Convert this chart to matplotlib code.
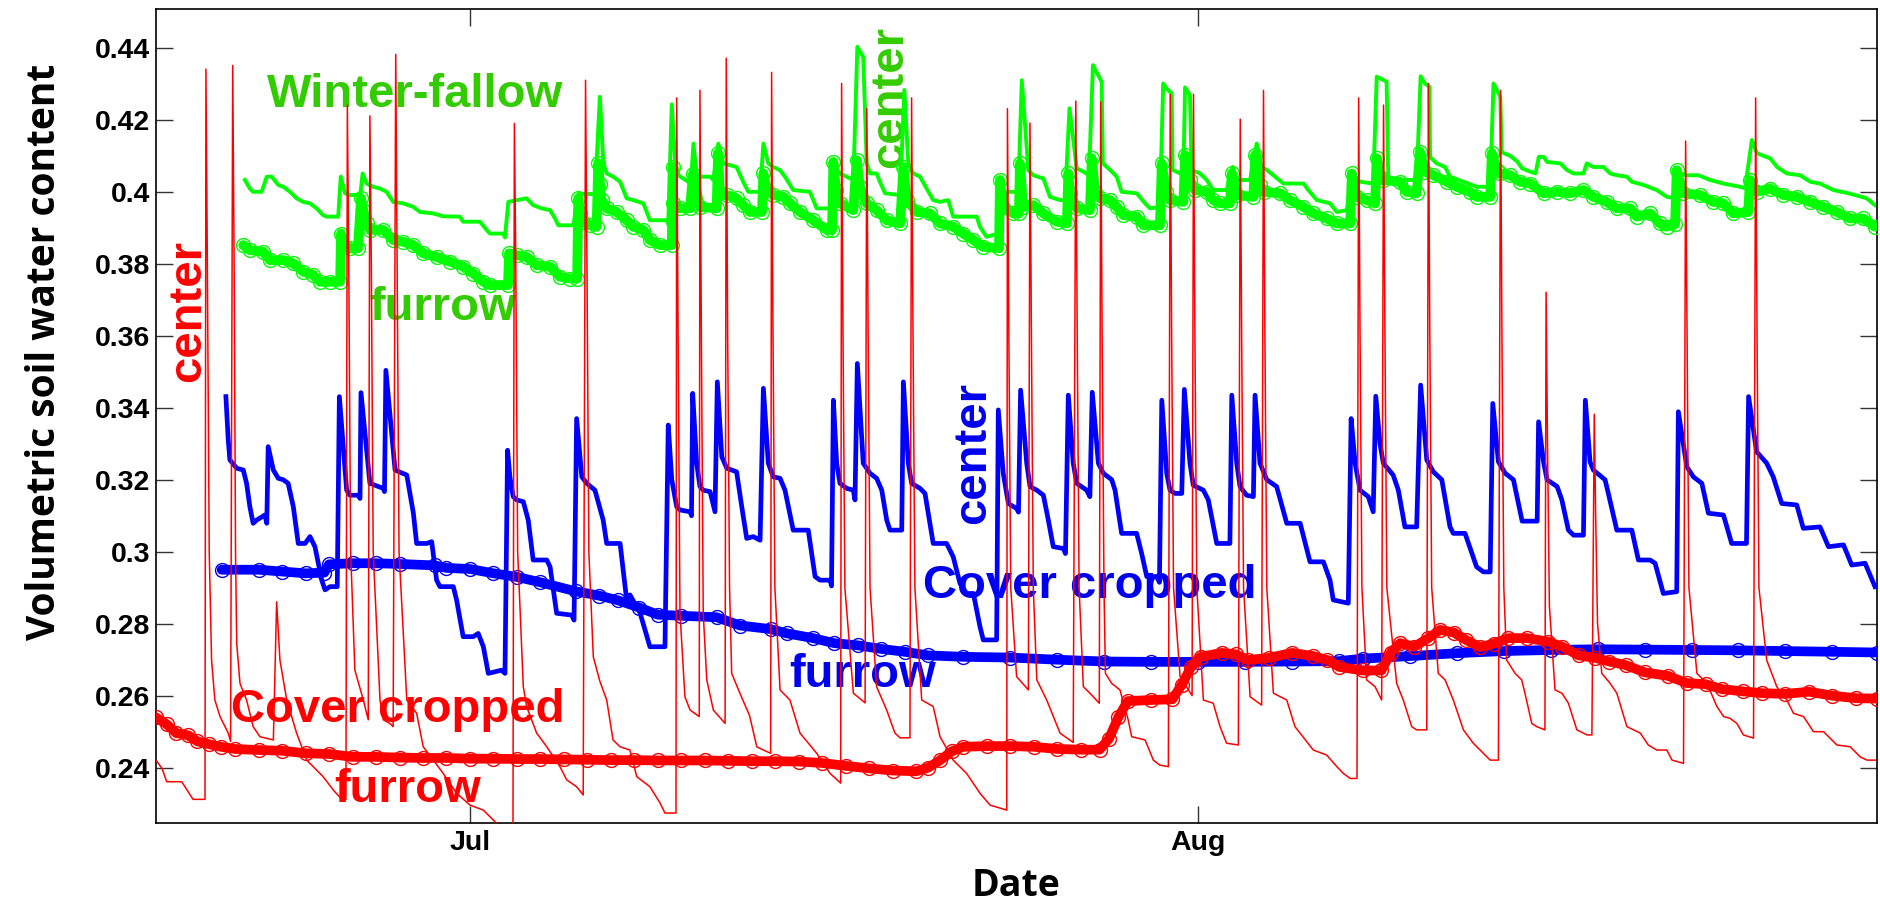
import numpy as np
import matplotlib.pyplot as plt

# x = days counted from 1 July (Jul 1 = 0, Aug 1 = 31)
# y = volumetric soil water content

# cover cropped, center (thin red line)
red_center = [
    (-13.37, 0.2421), (-13.11, 0.2398), (-12.91, 0.2361), (-12.27, 0.2361), (-11.79, 0.2312), (-11.28, 0.2312),
    (-11.24, 0.4341), (-11.18, 0.380), (-11.10, 0.300), (-11.00, 0.2699), (-10.86, 0.2588), (-10.64, 0.2542),
    (-10.29, 0.2496), (-10.19, 0.2473),
    (-10.10, 0.4351), (-10.04, 0.380), (-9.98, 0.300), (-9.93, 0.2746), (-9.79, 0.2634), (-9.51, 0.2588),
    (-9.23, 0.2514), (-8.94, 0.2486), (-8.37, 0.2477),
    (-8.23, 0.2861), (-8.09, 0.2699), (-7.80, 0.2588), (-7.38, 0.2496), (-6.95, 0.2421), (-6.25, 0.2375),
    (-5.82, 0.2338), (-5.46, 0.2312), (-5.28, 0.2312),
    (-5.22, 0.4241), (-5.16, 0.380), (-5.08, 0.300), (-4.90, 0.2671), (-4.54, 0.2588), (-4.33, 0.2533),
    (-4.26, 0.4211), (-4.20, 0.380), (-4.12, 0.300), (-3.83, 0.2588), (-3.69, 0.2533), (-3.41, 0.2523), (-3.27, 0.2514),
    (-3.16, 0.4382), (-3.10, 0.380), (-3.02, 0.300), (-2.69, 0.2588), (-2.27, 0.2551), (-1.99, 0.2458),
    (-1.56, 0.2421), (-1.14, 0.2384), (-0.57, 0.2329), (0.00, 0.2296), (0.57, 0.2282), (1.14, 0.2245), (1.83, 0.2225),
    (1.89, 0.4190), (1.95, 0.380), (2.03, 0.300), (2.27, 0.2625), (2.41, 0.2570), (2.84, 0.2496), (3.27, 0.2458),
    (3.83, 0.2403), (4.12, 0.2366), (4.54, 0.2347), (4.82, 0.2324),
    (4.92, 0.4310), (4.98, 0.380), (5.06, 0.300), (5.25, 0.2708), (5.53, 0.2640), (5.82, 0.2588), (6.09, 0.2477),
    (6.39, 0.2458), (6.81, 0.2449), (7.10, 0.2375), (7.66, 0.2347), (8.09, 0.2302), (8.30, 0.2274), (8.77, 0.2274),
    (8.80, 0.4261), (8.86, 0.360), (8.94, 0.2830), (9.15, 0.2597), (9.37, 0.2560), (9.76, 0.2542),
    (9.79, 0.4282), (9.85, 0.360), (9.93, 0.2829), (10.08, 0.2644), (10.36, 0.2560), (10.86, 0.2523),
    (10.91, 0.4371), (10.97, 0.360), (11.05, 0.290), (11.14, 0.2662), (11.49, 0.2607), (11.90, 0.2545),
    (12.21, 0.2458), (12.49, 0.2449), (12.80, 0.2440),
    (12.84, 0.4332), (12.90, 0.360), (12.98, 0.290), (13.20, 0.2616), (13.62, 0.2588), (14.05, 0.2496),
    (14.76, 0.2440), (15.33, 0.2384), (15.78, 0.2357),
    (15.82, 0.4301), (15.88, 0.360), (15.96, 0.290), (16.32, 0.2607), (16.82, 0.2580),
    (16.89, 0.4232), (16.95, 0.360), (17.03, 0.290), (17.31, 0.2625), (17.74, 0.2560), (18.09, 0.2496),
    (18.31, 0.2483), (18.73, 0.2483),
    (18.80, 0.4261), (18.86, 0.360), (18.94, 0.290), (19.23, 0.2588), (19.72, 0.2570), (20.01, 0.2486),
    (20.57, 0.2421), (21.14, 0.2384), (21.71, 0.2329), (22.14, 0.2296), (22.85, 0.2282),
    (22.88, 0.4231), (22.94, 0.360), (23.02, 0.290), (23.27, 0.2653), (23.77, 0.2616),
    (23.84, 0.4191), (23.90, 0.360), (23.98, 0.290), (24.13, 0.2644), (24.55, 0.2588), (25.12, 0.2496), (25.68, 0.2470),
    (25.79, 0.4252), (25.85, 0.360), (25.93, 0.290), (26.11, 0.2625), (26.39, 0.2607), (26.79, 0.2579),
    (26.85, 0.4250), (26.91, 0.360), (26.99, 0.290), (27.05, 0.2662), (27.32, 0.2634), (27.67, 0.2616),
    (28.02, 0.2533), (28.17, 0.2486), (28.74, 0.2477), (29.09, 0.2421), (29.37, 0.2407), (29.73, 0.2403),
    (29.81, 0.4270), (29.87, 0.360), (29.95, 0.290), (30.23, 0.2653), (30.74, 0.2600),
    (30.80, 0.4271), (30.86, 0.360), (30.94, 0.290), (31.22, 0.2588), (31.64, 0.2579), (31.93, 0.2514),
    (32.21, 0.2468), (32.71, 0.2463),
    (32.79, 0.4202), (32.85, 0.360), (32.93, 0.290), (33.21, 0.2597), (33.70, 0.2574),
    (33.78, 0.4282), (33.84, 0.360), (33.92, 0.290), (34.20, 0.2607), (34.77, 0.2588), (35.12, 0.2514),
    (35.90, 0.2449), (36.47, 0.2435), (36.90, 0.2403), (37.18, 0.2384), (37.47, 0.2370), (37.76, 0.2370),
    (37.83, 0.4261), (37.89, 0.360), (37.97, 0.290), (38.17, 0.2644), (38.53, 0.2625), (38.81, 0.2588),
    (38.89, 0.4241), (38.95, 0.360), (39.03, 0.290), (39.45, 0.2634), (39.73, 0.2588), (40.09, 0.2514),
    (40.30, 0.2505), (40.73, 0.2505),
    (40.80, 0.4301), (40.86, 0.360), (40.94, 0.290), (41.22, 0.2662), (41.51, 0.2644), (41.86, 0.2588),
    (42.29, 0.2505), (42.71, 0.2468), (43.14, 0.2440), (43.43, 0.2421), (43.78, 0.2421),
    (43.87, 0.4282), (43.93, 0.360), (44.01, 0.290), (44.13, 0.2699), (44.49, 0.2662), (44.77, 0.2644),
    (44.91, 0.2607), (45.20, 0.2523), (45.41, 0.2514), (45.76, 0.2505),
    (45.81, 0.3721), (45.87, 0.330), (45.95, 0.285), (46.19, 0.2616), (46.48, 0.2607), (46.76, 0.2579),
    (47.12, 0.2505), (47.55, 0.2491), (47.76, 0.2491),
    (47.86, 0.3382), (47.92, 0.310), (48.00, 0.280), (48.18, 0.2662), (48.54, 0.2634), (48.82, 0.2607),
    (49.25, 0.2514), (49.82, 0.2496), (50.16, 0.2463), (50.52, 0.2449), (50.95, 0.2449), (51.17, 0.2421), (51.66, 0.2412),
    (51.75, 0.4141), (51.81, 0.360), (51.89, 0.290), (52.23, 0.2662), (52.66, 0.2634), (53.08, 0.2570),
    (53.37, 0.2542), (53.64, 0.2537), (53.93, 0.2523), (54.21, 0.2491), (54.64, 0.2482),
    (54.73, 0.4261), (54.79, 0.360), (54.87, 0.290), (55.20, 0.2699), (55.63, 0.2625), (56.06, 0.2588),
    (56.34, 0.2551), (56.77, 0.2542), (57.19, 0.2500), (57.62, 0.2500), (58.19, 0.2463), (58.76, 0.2458),
    (59.18, 0.2430), (59.47, 0.2421), (59.83, 0.2421),
]

# cover cropped, furrow (red circles)
red_furrow = [
    (-13.37, 0.2540), (-12.9, 0.2520), (-12.5, 0.2496), (-12.0, 0.2490), (-11.6, 0.2473), (-11.1, 0.2465),
    (-10.6, 0.2458), (-10.0, 0.2452), (-9.0, 0.2449), (-8.0, 0.2447), (-7.0, 0.2440), (-6.0, 0.2438),
    (-5.0, 0.2430), (-4.0, 0.2430), (-3.0, 0.2428), (-2.0, 0.2427), (-1.0, 0.2427), (0.0, 0.2425),
    (1.0, 0.2425), (2.0, 0.2424), (3.0, 0.2424), (4.0, 0.2423), (5.0, 0.2422), (6.0, 0.2421), (7.0, 0.2421),
    (8.0, 0.2420), (9.0, 0.2420), (10.0, 0.2420), (11.0, 0.2419), (12.0, 0.2418), (13.0, 0.2418),
    (14.0, 0.2417), (15.0, 0.2413), (16.0, 0.2405), (17.0, 0.2398), (18.0, 0.2392), (19.0, 0.2390),
    (19.5, 0.2400), (20.0, 0.2420), (20.5, 0.2445), (21.0, 0.2458), (22.0, 0.2460), (23.0, 0.2460),
    (24.0, 0.2458), (25.0, 0.2452), (26.0, 0.2450), (26.8, 0.2450), (27.2, 0.2480), (27.6, 0.2540),
    (28.0, 0.2585), (29.0, 0.2588), (29.9, 0.2590), (30.3, 0.2630), (30.7, 0.2680), (31.1, 0.2708),
    (32.0, 0.2719), (32.6, 0.2715), (33.1, 0.2699), (34.0, 0.2705), (35.0, 0.2719), (35.9, 0.2710),
    (36.5, 0.2699), (37.0, 0.2680), (38.0, 0.2670), (38.8, 0.2670), (39.2, 0.2720), (39.6, 0.2746),
    (40.2, 0.2736), (40.8, 0.2760), (41.3, 0.2783), (41.9, 0.2775), (42.4, 0.2755), (43.0, 0.2735),
    (43.6, 0.2745), (44.2, 0.2760), (45.0, 0.2760), (45.9, 0.2750), (46.5, 0.2736), (47.2, 0.2712),
    (47.9, 0.2705), (48.5, 0.2695), (49.2, 0.2685), (50.0, 0.2665), (51.0, 0.2655), (51.8, 0.2635),
    (52.6, 0.2632), (53.3, 0.2618), (54.2, 0.2612), (55.0, 0.2607), (56.0, 0.2605), (57.0, 0.2611),
    (58.0, 0.2600), (59.0, 0.2593), (59.88, 0.2592),
]

# cover cropped, center (thick blue line)
blue_center = [
    (-10.39, 0.3431), (-10.29, 0.3310), (-10.22, 0.3255), (-9.93, 0.3232), (-9.65, 0.3227), (-9.51, 0.3190),
    (-9.37, 0.3125), (-9.23, 0.3079), (-9.08, 0.3088), (-8.73, 0.3102), (-8.65, 0.3079),
    (-8.59, 0.3292), (-8.37, 0.3227), (-8.16, 0.3204), (-7.95, 0.3200), (-7.74, 0.3190), (-7.52, 0.3125),
    (-7.31, 0.3023), (-7.02, 0.3023), (-6.81, 0.3042), (-6.60, 0.3014), (-6.31, 0.2921), (-6.17, 0.2894),
    (-5.96, 0.2903), (-5.65, 0.2903),
    (-5.56, 0.3431), (-5.25, 0.3171), (-5.11, 0.3157), (-4.76, 0.3157), (-4.68, 0.3148),
    (-4.64, 0.3442), (-4.26, 0.3190), (-3.69, 0.3176), (-3.64, 0.3167),
    (-3.58, 0.3504), (-3.19, 0.3227), (-2.69, 0.3213), (-2.41, 0.3107), (-2.27, 0.3023), (-1.84, 0.3023),
    (-1.63, 0.3028), (-1.42, 0.2921), (-1.28, 0.2903), (-0.71, 0.2903), (-0.57, 0.2866), (-0.29, 0.2764),
    (0.14, 0.2764), (0.35, 0.2773), (0.57, 0.2736), (0.78, 0.2662), (1.35, 0.2671), (1.49, 0.2662),
    (1.60, 0.3282), (1.70, 0.3208), (1.84, 0.3153), (1.99, 0.3144), (2.27, 0.3139), (2.48, 0.3088),
    (2.69, 0.2977), (3.27, 0.2977), (3.41, 0.2958), (3.69, 0.2829), (4.33, 0.2824), (4.43, 0.2810),
    (4.54, 0.3370), (4.76, 0.3208), (4.97, 0.3190), (5.32, 0.3171), (5.67, 0.3088), (5.82, 0.3023),
    (6.39, 0.3023), (6.67, 0.2866), (6.81, 0.2880), (7.24, 0.2830), (7.66, 0.2736), (8.30, 0.2736),
    (8.44, 0.3352), (8.59, 0.3200), (8.80, 0.3125), (8.94, 0.3116), (9.37, 0.3111), (9.43, 0.3100),
    (9.48, 0.3440), (9.65, 0.3246), (9.79, 0.3181), (9.93, 0.3171), (10.22, 0.3167), (10.43, 0.3111),
    (10.53, 0.3472), (10.72, 0.3264), (10.93, 0.3232), (11.14, 0.3227), (11.35, 0.3222), (11.57, 0.3125),
    (11.78, 0.3037), (12.06, 0.3042), (12.35, 0.3032),
    (12.49, 0.3454), (12.70, 0.3246), (12.91, 0.3208), (13.20, 0.3204), (13.41, 0.3171), (13.76, 0.3060),
    (14.40, 0.3060), (14.69, 0.2931), (14.90, 0.2921), (15.33, 0.2921), (15.39, 0.2905),
    (15.47, 0.3421), (15.61, 0.3246), (15.75, 0.3190), (16.04, 0.3176), (16.32, 0.3171), (16.39, 0.3144),
    (16.49, 0.3523), (16.74, 0.3246), (17.03, 0.3218), (17.31, 0.3204), (17.53, 0.3171), (17.74, 0.3088),
    (17.88, 0.3060), (18.38, 0.3060),
    (18.45, 0.3472), (18.66, 0.3246), (18.80, 0.3190), (19.16, 0.3176), (19.37, 0.3162), (19.72, 0.3023),
    (20.29, 0.3023), (20.57, 0.2986), (20.86, 0.2912), (21.14, 0.2884), (21.43, 0.2884), (21.71, 0.2792),
    (21.85, 0.2755), (22.42, 0.2755),
    (22.49, 0.3394), (22.70, 0.3218), (22.92, 0.3134), (23.27, 0.3120), (23.35, 0.3110),
    (23.44, 0.3449), (23.70, 0.3246), (23.84, 0.3181), (24.13, 0.3171), (24.41, 0.3157), (24.62, 0.3088),
    (24.83, 0.3014), (25.26, 0.3009), (25.35, 0.2995),
    (25.47, 0.3435), (25.68, 0.3246), (25.83, 0.3190), (26.25, 0.3171), (26.39, 0.3153),
    (26.49, 0.3443), (26.75, 0.3246), (26.96, 0.3218), (27.32, 0.3200), (27.46, 0.3171), (27.74, 0.3051),
    (28.38, 0.3051), (28.59, 0.2996), (28.81, 0.2931), (29.23, 0.2931), (29.35, 0.2915),
    (29.45, 0.3421), (29.66, 0.3218), (29.80, 0.3171), (30.01, 0.3162), (30.30, 0.3162),
    (30.41, 0.3451), (30.65, 0.3246), (30.79, 0.3185), (31.22, 0.3171), (31.43, 0.3144), (31.79, 0.3023),
    (32.35, 0.3023),
    (32.43, 0.3435), (32.64, 0.3246), (32.78, 0.3181), (33.06, 0.3157), (33.35, 0.3153),
    (33.42, 0.3435), (33.63, 0.3246), (33.92, 0.3200), (34.34, 0.3181), (34.77, 0.3079), (35.34, 0.3079),
    (35.76, 0.2972), (36.33, 0.2972), (36.61, 0.2921), (36.75, 0.2866), (37.39, 0.2857),
    (37.51, 0.3370), (37.68, 0.3246), (37.89, 0.3171), (38.24, 0.3153), (38.45, 0.3111),
    (38.56, 0.3432), (38.74, 0.3300), (38.88, 0.3246), (39.30, 0.3213), (39.52, 0.3171), (39.80, 0.3069),
    (40.30, 0.3069),
    (40.47, 0.3463), (40.73, 0.3255), (41.01, 0.3222), (41.37, 0.3200), (41.72, 0.3069), (41.86, 0.3051),
    (42.36, 0.3051), (42.85, 0.2958), (43.14, 0.2944), (43.43, 0.2944),
    (43.54, 0.3412), (43.78, 0.3250), (44.07, 0.3218), (44.42, 0.3200), (44.57, 0.3153), (44.79, 0.3085),
    (45.43, 0.3085),
    (45.49, 0.3361), (45.70, 0.3250), (45.85, 0.3200), (46.28, 0.3181), (46.48, 0.3144), (46.76, 0.3060),
    (46.98, 0.3046), (47.40, 0.3046),
    (47.48, 0.3421), (47.68, 0.3250), (47.82, 0.3227), (48.32, 0.3200), (48.46, 0.3162), (48.82, 0.3060),
    (49.46, 0.3060), (49.74, 0.2977), (50.24, 0.2977), (50.45, 0.2968), (50.80, 0.2884), (51.37, 0.2889),
    (51.44, 0.3389), (51.80, 0.3236), (52.08, 0.3208), (52.44, 0.3190), (52.72, 0.3107), (53.36, 0.3102),
    (53.71, 0.3023), (54.34, 0.3023),
    (54.43, 0.3431), (54.77, 0.3278), (55.20, 0.3246), (55.48, 0.3208), (55.84, 0.3134), (56.48, 0.3130),
    (56.76, 0.3065), (57.47, 0.3069), (57.83, 0.3014), (58.47, 0.3019), (58.82, 0.2963), (59.39, 0.2968),
    (59.81, 0.2903),
]

# cover cropped, furrow (blue circles)
blue_furrow = [
    (-10.57, 0.2950), (-9.0, 0.2950), (-8.0, 0.2945), (-7.0, 0.2940), (-6.2, 0.2942), (-6.0, 0.2965),
    (-5.0, 0.2968), (-4.0, 0.2968), (-3.0, 0.2966), (-1.5, 0.2962), (-1.0, 0.2955), (0.0, 0.2952),
    (1.0, 0.2940), (2.0, 0.2930), (3.0, 0.2915), (4.5, 0.2890), (5.5, 0.2878), (6.3, 0.2865),
    (7.2, 0.2845), (8.0, 0.2825), (9.0, 0.2822), (10.5, 0.2818), (11.5, 0.2795), (12.8, 0.2785),
    (13.5, 0.2773), (14.6, 0.2760), (15.5, 0.2746), (16.5, 0.2740), (17.5, 0.2730), (18.5, 0.2722),
    (19.5, 0.2712), (21.0, 0.2708), (23.0, 0.2706), (25.0, 0.2700), (27.0, 0.2695), (29.0, 0.2694),
    (31.0, 0.2694), (33.0, 0.2694), (35.0, 0.2695), (37.0, 0.2696), (38.0, 0.2703), (40.0, 0.2710),
    (42.0, 0.2718), (44.0, 0.2724), (46.0, 0.2727), (48.0, 0.2729), (50.0, 0.2728), (52.0, 0.2727),
    (54.0, 0.2726), (56.0, 0.2724), (58.0, 0.2722), (59.88, 0.2720),
]

# winter-fallow, center (green line)
green_center = [
    (-9.58, 0.4033), (-9.37, 0.4009), (-9.23, 0.4000), (-8.87, 0.4000), (-8.65, 0.4042), (-8.44, 0.4042),
    (-8.16, 0.4019), (-7.95, 0.4014), (-7.66, 0.4000), (-7.38, 0.3982), (-7.10, 0.3972), (-6.81, 0.3968),
    (-6.53, 0.3954), (-6.25, 0.3935), (-6.10, 0.3931), (-5.61, 0.3931),
    (-5.50, 0.4042), (-5.32, 0.3996), (-5.11, 0.3991), (-4.76, 0.3991), (-4.68, 0.3985),
    (-4.57, 0.4051), (-4.40, 0.4023), (-4.12, 0.4014), (-3.83, 0.4009), (-3.55, 0.4000), (-3.27, 0.3972),
    (-2.84, 0.3968), (-2.41, 0.3958), (-2.13, 0.3944), (-1.56, 0.3940), (-1.14, 0.3932), (-0.43, 0.3931),
    (-0.29, 0.3917), (0.43, 0.3917), (0.71, 0.3894), (0.85, 0.3884), (1.42, 0.3884), (1.49, 0.3873),
    (1.63, 0.3972), (1.99, 0.3977), (2.41, 0.3982), (2.69, 0.3963), (3.05, 0.3954), (3.41, 0.3949),
    (3.62, 0.3926), (3.76, 0.3907), (4.40, 0.3907), (4.61, 0.3994), (5.32, 0.3994),
    (5.53, 0.4264), (5.68, 0.4079), (5.82, 0.4051), (6.10, 0.4042), (6.39, 0.4028), (6.67, 0.3982),
    (6.95, 0.3977), (7.38, 0.3968), (7.66, 0.3921), (8.37, 0.3921), (8.44, 0.3910),
    (8.59, 0.4243), (8.73, 0.4088), (8.87, 0.4046), (9.29, 0.4028), (9.41, 0.4020),
    (9.51, 0.4134), (9.65, 0.4051), (9.79, 0.4042), (10.22, 0.4042), (10.36, 0.4033),
    (10.57, 0.4134), (10.78, 0.4079), (11.07, 0.4074), (11.35, 0.4069), (11.63, 0.4028), (11.85, 0.4000),
    (12.35, 0.4000),
    (12.49, 0.4134), (12.70, 0.4079), (12.91, 0.4069), (13.20, 0.4060), (13.41, 0.4042), (13.76, 0.4005),
    (14.47, 0.4000), (14.76, 0.3954), (15.40, 0.3954), (15.45, 0.3940),
    (15.54, 0.4069), (15.75, 0.4051), (16.32, 0.4033),
    (16.49, 0.4403), (16.74, 0.4375), (16.89, 0.4079), (17.03, 0.4051), (17.31, 0.4051), (17.45, 0.4028),
    (17.67, 0.3996), (18.31, 0.3991),
    (18.49, 0.4283), (18.66, 0.4079), (18.87, 0.4051), (19.16, 0.4042), (19.44, 0.4009), (19.72, 0.3977),
    (20.01, 0.3972), (20.36, 0.3977), (20.57, 0.3931), (21.57, 0.3931), (21.71, 0.3903), (21.99, 0.3875),
    (22.49, 0.3884), (22.56, 0.3960), (22.92, 0.4000), (23.34, 0.4000),
    (23.49, 0.4310), (23.77, 0.4060), (23.98, 0.4046), (24.41, 0.4037), (24.69, 0.3986), (25.12, 0.3977),
    (25.33, 0.3977),
    (25.52, 0.4232), (25.83, 0.4065), (26.11, 0.4056), (26.35, 0.4046),
    (26.52, 0.4352), (26.70, 0.4329), (26.89, 0.4306), (26.94, 0.4079), (27.25, 0.4061), (27.53, 0.4042),
    (27.74, 0.4000), (28.38, 0.3996), (28.74, 0.3968), (28.95, 0.3954), (29.37, 0.3958),
    (29.51, 0.4301), (29.66, 0.4287), (29.87, 0.4273), (29.91, 0.4061), (30.23, 0.4051), (30.37, 0.4051),
    (30.44, 0.4290), (30.65, 0.4269), (30.72, 0.4061), (31.08, 0.4051), (31.36, 0.4033), (31.64, 0.4005),
    (32.21, 0.4005), (32.47, 0.4069), (32.64, 0.4033), (33.21, 0.4033),
    (33.49, 0.4134), (33.70, 0.4069), (33.92, 0.4061), (34.63, 0.4023), (35.48, 0.4023), (35.69, 0.4005),
    (36.05, 0.3977), (36.61, 0.3968), (36.90, 0.3944), (37.33, 0.3949),
    (37.54, 0.4051), (37.89, 0.4028), (38.45, 0.4023),
    (38.60, 0.4320), (39.02, 0.4306), (39.09, 0.4042), (39.45, 0.4033), (40.30, 0.4033),
    (40.47, 0.4321), (40.65, 0.4301), (40.84, 0.4292), (40.87, 0.4097), (41.15, 0.4079), (41.51, 0.4069),
    (41.72, 0.4042), (42.29, 0.4028), (42.86, 0.4014), (43.43, 0.4014),
    (43.57, 0.4301), (43.86, 0.4264), (43.92, 0.4110), (44.28, 0.4100), (44.57, 0.4085), (44.79, 0.4065),
    (45.14, 0.4056), (45.36, 0.4051), (45.50, 0.4097), (45.71, 0.4097), (45.85, 0.4083), (46.42, 0.4079),
    (46.69, 0.4061), (46.98, 0.4051), (47.40, 0.4051), (47.54, 0.4079), (47.82, 0.4069), (48.25, 0.4069),
    (48.54, 0.4051), (48.82, 0.4046), (49.25, 0.4042), (49.46, 0.4028), (49.96, 0.4019), (50.52, 0.4005),
    (50.95, 0.3986), (51.37, 0.3982),
    (51.52, 0.4051), (51.80, 0.4046), (52.30, 0.4046), (52.79, 0.4033), (53.36, 0.4023), (54.07, 0.4014),
    (54.28, 0.4010),
    (54.57, 0.4144), (54.79, 0.4107), (55.35, 0.4093), (55.64, 0.4069), (56.06, 0.4051), (56.63, 0.4046),
    (57.05, 0.4028), (57.47, 0.4023), (58.04, 0.4005), (58.68, 0.3996), (59.46, 0.3982), (59.81, 0.3963),
]

# winter-fallow, furrow (green circles)
green_furrow = [
    (-9.65, 0.3852), (-9.37, 0.3838), (-8.80, 0.3833), (-8.51, 0.3810), (-7.95, 0.3810), (-7.52, 0.3801),
    (-7.10, 0.3778), (-6.67, 0.3769), (-6.39, 0.3750), (-5.96, 0.3750), (-5.53, 0.3750),
    (-5.49, 0.3884), (-5.32, 0.3847), (-5.11, 0.3843), (-4.77, 0.3843),
    (-4.64, 0.3982), (-4.54, 0.3949), (-4.40, 0.3912), (-4.26, 0.3894), (-3.69, 0.3894), (-3.27, 0.3866),
    (-2.84, 0.3861), (-2.41, 0.3852), (-1.99, 0.3829), (-1.42, 0.3819), (-0.85, 0.3806), (-0.29, 0.3792),
    (0.14, 0.3773), (0.57, 0.3750), (0.85, 0.3741), (1.62, 0.3741),
    (1.66, 0.3829), (1.99, 0.3824), (2.41, 0.3819), (2.84, 0.3796), (3.41, 0.3792), (3.83, 0.3764),
    (4.26, 0.3759), (4.56, 0.3759),
    (4.61, 0.3982), (4.68, 0.3940), (4.82, 0.3917), (5.11, 0.3907), (5.39, 0.3903),
    (5.46, 0.4079), (5.53, 0.4023), (5.60, 0.3977), (5.82, 0.3954), (6.24, 0.3944), (6.67, 0.3921),
    (6.95, 0.3903), (7.38, 0.3894), (7.66, 0.3866), (8.09, 0.3852), (8.59, 0.3852),
    (8.64, 0.4070), (8.65, 0.3968), (8.94, 0.3954), (9.37, 0.3954),
    (9.49, 0.4050), (9.79, 0.3958), (10.50, 0.3954),
    (10.56, 0.4107), (10.64, 0.3996), (10.93, 0.3991), (11.35, 0.3982), (11.63, 0.3963), (11.92, 0.3944),
    (12.43, 0.3944),
    (12.49, 0.4051), (12.63, 0.4005), (12.91, 0.3991), (13.34, 0.3986), (13.62, 0.3968), (14.05, 0.3944),
    (14.61, 0.3921), (15.19, 0.3894), (15.41, 0.3894),
    (15.47, 0.4083), (15.58, 0.4005), (15.75, 0.3968), (16.32, 0.3949),
    (16.46, 0.4088), (16.60, 0.4014), (16.89, 0.3968), (17.31, 0.3949), (17.74, 0.3921), (18.31, 0.3912),
    (18.45, 0.4069), (18.59, 0.3977), (19.02, 0.3944), (19.58, 0.3940), (20.01, 0.3912), (20.57, 0.3903),
    (21.00, 0.3884), (21.43, 0.3866), (21.85, 0.3847), (22.52, 0.3843),
    (22.56, 0.4033), (22.70, 0.3958), (23.13, 0.3940), (23.37, 0.3940),
    (23.41, 0.4079), (23.55, 0.3958), (23.98, 0.3963), (24.41, 0.3940), (24.97, 0.3917), (25.41, 0.3912),
    (25.47, 0.4051), (25.54, 0.3996), (25.83, 0.3954), (26.39, 0.3949),
    (26.47, 0.4093), (26.61, 0.4000), (26.82, 0.3982), (27.25, 0.3977), (27.53, 0.3958), (27.82, 0.3935),
    (28.38, 0.3931), (28.67, 0.3907), (29.37, 0.3907),
    (29.45, 0.4079), (29.63, 0.4000), (29.80, 0.3977), (30.37, 0.3972),
    (30.44, 0.4102), (30.65, 0.4033), (30.86, 0.4005), (31.36, 0.4000), (31.64, 0.3977), (31.93, 0.3968),
    (32.35, 0.3968),
    (32.43, 0.4051), (32.64, 0.3991), (33.35, 0.3986),
    (33.42, 0.4102), (33.63, 0.4020), (33.78, 0.4000), (34.48, 0.3996), (34.91, 0.3977), (35.48, 0.3958),
    (35.90, 0.3940), (36.47, 0.3926), (36.90, 0.3912), (37.47, 0.3912),
    (37.54, 0.4051), (37.75, 0.3986), (38.17, 0.3977), (38.53, 0.3968),
    (38.60, 0.4093), (38.74, 0.4042), (38.88, 0.4033), (39.59, 0.4028), (39.87, 0.4000), (40.30, 0.3996),
    (40.44, 0.4111), (40.65, 0.4056), (41.01, 0.4046), (41.58, 0.4028), (42.00, 0.4014), (42.57, 0.4000),
    (42.86, 0.3986), (43.43, 0.3986),
    (43.50, 0.4107), (43.71, 0.4060), (43.86, 0.4051), (44.28, 0.4046), (44.70, 0.4028), (45.14, 0.4023),
    (45.71, 0.3996), (46.28, 0.4000), (46.83, 0.3996), (47.40, 0.4005), (47.82, 0.3986), (48.39, 0.3972),
    (48.82, 0.3954), (49.39, 0.3954), (49.67, 0.3931), (50.23, 0.3940), (50.66, 0.3912), (50.94, 0.3903),
    (51.30, 0.3910),
    (51.37, 0.4060), (51.65, 0.3996), (52.36, 0.3991), (52.93, 0.3972), (53.35, 0.3968), (53.78, 0.3940),
    (54.41, 0.3944),
    (54.49, 0.4033), (54.77, 0.4000), (55.34, 0.4009), (55.91, 0.3991), (56.48, 0.3986), (57.05, 0.3972),
    (57.61, 0.3958), (58.18, 0.3944), (58.75, 0.3926), (59.31, 0.3926), (59.81, 0.3903),
]

month_ticks = [0, 31]
month_labels = ['Jul', 'Aug']
vwc_ticks = [0.24, 0.26, 0.28, 0.30, 0.32, 0.34, 0.36, 0.38, 0.40, 0.42, 0.44]
vwc_labels = ['0.24', '0.26', '0.28', '0.3', '0.32', '0.34', '0.36', '0.38', '0.4', '0.42', '0.44']

RED = '#ff0000'
BLUE = '#0000ff'
GREEN = '#00ff00'
GREEN_TXT = '#33cc00'
BLUE_TXT = '#0000ee'

fig = plt.figure(figsize=(18.8, 9.08), dpi=100)
ax = fig.add_axes([0.0828, 0.0939, 0.9154, 0.8962])


def xy(pairs):
    a = np.array(pairs)
    return a[:, 0], a[:, 1]


def circles(pairs, color, z):
    d, v = xy(pairs)
    ax.plot(d, v, color=color, lw=7, solid_capstyle='round', solid_joinstyle='round', zorder=z)
    ax.plot(d, v, 'o', mfc='none', mec=color, ms=10, mew=1.0, zorder=z)


d, v = xy(green_center)
ax.plot(d, v, color=GREEN, lw=2.8, zorder=2)
circles(green_furrow, GREEN, 3)
circles(blue_furrow, BLUE, 4)
d, v = xy(blue_center)
ax.plot(d, v, color=BLUE, lw=3.4, zorder=5)
circles(red_furrow, RED, 6)
d, v = xy(red_center)
ax.plot(d, v, color=RED, lw=1.1, zorder=7)

# in-plot labels
lab = dict(fontsize=34, fontweight='bold', family='Liberation Sans', zorder=1)
ax.text(-2.34, 0.4235, 'Winter-fallow', color=GREEN_TXT, ha='center', va='baseline', **lab)
ax.text(-1.15, 0.3644, 'furrow', color=GREEN_TXT, ha='center', va='baseline', **lab)
ax.text(18.39, 0.4263, 'center', color=GREEN_TXT, rotation=90, rotation_mode='anchor',
        ha='center', va='baseline', **lab)
ax.text(-11.49, 0.3669, 'center', color=RED, rotation=90, rotation_mode='anchor',
        ha='center', va='baseline', **lab)
ax.text(-3.07, 0.2528, 'Cover cropped', color=RED, ha='center', va='baseline', **lab)
ax.text(-2.64, 0.2306, 'furrow', color=RED, ha='center', va='baseline', **lab)
ax.text(21.92, 0.3274, 'center', color=BLUE_TXT, rotation=90, rotation_mode='anchor',
        ha='center', va='baseline', **lab)
ax.text(26.39, 0.2871, 'Cover cropped', color=BLUE_TXT, ha='center', va='baseline', **lab)
ax.text(16.73, 0.2625, 'furrow', color=BLUE_TXT, ha='center', va='baseline', **lab)

ax.set_xlim(-13.38, 59.88)
ax.set_ylim(0.2247, 0.4508)
ax.set_xticks(month_ticks)
ax.set_xticklabels(month_labels)
ax.set_yticks(vwc_ticks)
ax.set_yticklabels(vwc_labels)
ax.tick_params(direction='in', length=12.2, width=1.0, color='#333333',
               top=True, right=True, labelsize=20.5)
ax.tick_params(axis='y', pad=4.1)
ax.tick_params(axis='x', pad=5.3)
for t in ax.get_xticklabels() + ax.get_yticklabels():
    t.set_fontweight('bold')
    t.set_family('Liberation Sans')
for s in ax.spines.values():
    s.set_linewidth(1.2)

ax.set_xlabel('Date', fontsize=27, fontweight='bold', family='Open Sans')
ax.xaxis.set_label_coords(0.5, -0.0905)
ax.xaxis.label.set_verticalalignment('baseline')
ax.set_ylabel('Volumetric soil water content', fontsize=28, fontweight='bold', family='Open Sans')
ax.yaxis.set_label_coords(-0.0585, 0.579)
ax.yaxis.label.set_verticalalignment('baseline')

fig.savefig('out.png', dpi=100)
